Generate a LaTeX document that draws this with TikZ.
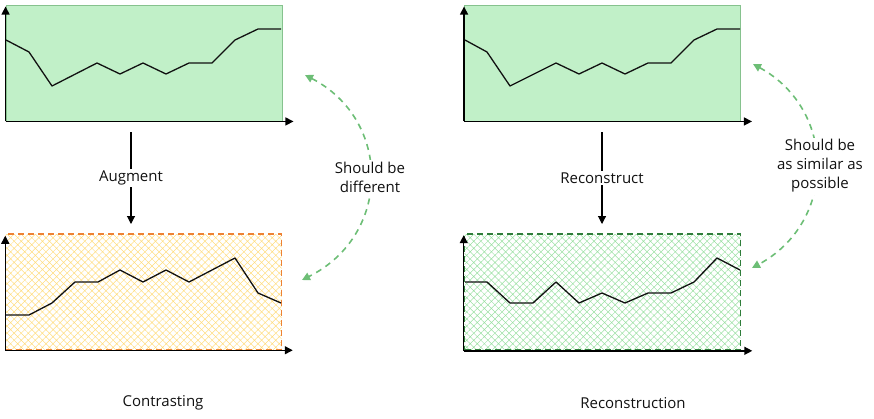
\documentclass[tikz,border=0pt]{standalone}
\usepackage{fontspec}
\setmainfont{Open Sans}
\usepackage{tikz}
\usetikzlibrary{arrows.meta,positioning,patterns.meta}
\definecolor{panelgreen}{HTML}{C1F0C8}
\definecolor{panelrule}{HTML}{86C28E}
\definecolor{hatchyellow}{HTML}{FFDD80}
\definecolor{ruleorange}{HTML}{EE8233}
\definecolor{hatchgreen}{HTML}{9CE0A4}
\definecolor{rulegreen}{HTML}{2F7D3A}
\definecolor{linkgreen}{HTML}{6DBE76}
\definecolor{inkblack}{HTML}{111111}

\begin{document}
\begin{tikzpicture}[x=1pt, y=-1pt,
    panel/.style={rectangle, inner sep=0pt, minimum width=276pt, minimum height=116pt},
    original/.style={panel, draw=panelrule, line width=0.9pt, fill=panelgreen},
    augmented/.style={panel, draw=ruleorange, line width=1.6pt, dash pattern=on 6pt off 4pt,
        pattern={Hatch[angle=45, distance=5pt, line width=0.5pt]}, pattern color=hatchyellow},
    rebuilt/.style={panel, draw=rulegreen, line width=1.6pt, dash pattern=on 6pt off 4pt,
        pattern={Hatch[angle=45, distance=5pt, line width=0.5pt]}, pattern color=hatchgreen},
    axis/.style={line width=1.4pt, -{Triangle[length=8pt, width=8pt]}},
    series/.style={line width=1.3pt, line join=round, inkblack},
    arrow/.style={line width=1.1pt, -{Triangle[length=8pt, width=8pt]}},
    link/.style={linkgreen, line width=1.6pt, dash pattern=on 6pt off 5pt, <->,
        >={Triangle[length=8pt, width=8pt]}},
    lbl/.style={fill=white, inner sep=2pt, align=center, text=inkblack,
        font=\fontsize{15}{19}\selectfont},
    caption/.style={text=inkblack, font=\fontsize{15}{19}\selectfont}
]
\useasboundingbox (0,0) rectangle (874,418);

% panels
\node[original] (srcA) at (144,63) {};
\node[original] (srcB) at (602.5,63) {};
\node[augmented] (augA) at (143.5,292) {};
\node[rebuilt] (recB) at (602.5,292) {};

% axes
\foreach \p in {srcA,srcB,augA,recB} {
  \draw[axis] (\p.south west) -- ([yshift=-2pt]\p.north west);
  \draw[axis] (\p.south west) -- ([xshift=11pt]\p.south east);
}

% series
\draw[series] plot coordinates {(6,40) (29,52) (52,86) (97,63) (120,74) (143,63) (166,74)
  (189,63) (212,63) (235,40) (258,29) (281,29)};
\draw[series] plot coordinates {(465,40) (487,52) (510,86) (556,63) (579,74) (602,63) (625,74)
  (648,63) (671,63) (694,40) (717,29) (740,29)};
\draw[series] plot coordinates {(6,315) (29,315) (52,303) (75,282) (98,282) (120,270) (143,282)
  (166,270) (189,282) (212,270) (235,258) (258,293) (281,303)};
\draw[series] plot coordinates {(465,282) (487,282) (510,303) (533,303) (556,282) (579,303)
  (602,293) (625,303) (648,293) (671,293) (694,282) (717,258) (740,270)};

% transforms
\coordinate (augTop) at (131,132);
\coordinate (augEnd) at (131,224);
\coordinate (recTop) at (602,132);
\coordinate (recEnd) at (602,224);
\draw[arrow] (augTop) -- (augEnd);
\draw[arrow] (recTop) -- (recEnd);
\node[lbl] (augLbl) at (131,178) {Augment};
\node[lbl] (recLbl) at (602,178) {Reconstruct};

% comparisons
\coordinate (cmpA1) at (305,75);
\coordinate (cmpA2) at (302,280);
\coordinate (cmpB1) at (753,64);
\coordinate (cmpB2) at (752,268);
\draw[link] (cmpA1) .. controls (392,120) and (392,235) .. (cmpA2);
\draw[link] (cmpB1) .. controls (837,110) and (837,222) .. (cmpB2);
\node[lbl] (diffLbl) at (370,177) {Should be\\different};
\node[lbl] (simLbl) at (820,166) {Should be\\as similar as\\possible};

% captions
\node[caption] (capA) at (163,403) {Contrasting};
\node[caption] (capB) at (633,403) {Reconstruction};
\end{tikzpicture}
\end{document}
